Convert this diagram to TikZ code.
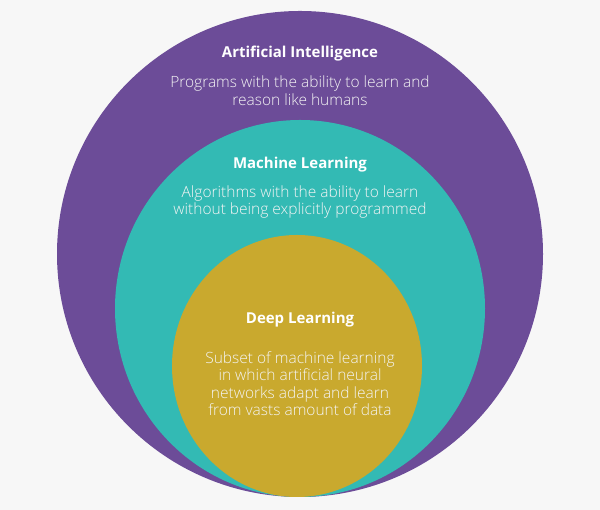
\documentclass[tikz,border=0pt]{standalone}
\usepackage{fontspec}
\setmainfont{Open Sans}
\newfontfamily\lightfont{Open Sans Light}
\definecolor{bg}{HTML}{F7F7F7}
\definecolor{aipurple}{HTML}{6C4C98}
\definecolor{mlteal}{HTML}{33BAB4}
\definecolor{dlgold}{HTML}{C9A92E}
\definecolor{desc}{HTML}{F4F4F4}
\begin{document}
\begin{tikzpicture}[x=1pt,y=1pt,
  title/.style={text=white,font=\fontsize{15}{18}\selectfont\bfseries,inner sep=0pt,anchor=base},
  body/.style={text=desc,font=\lightfont\fontsize{15.5}{17.5}\selectfont,align=center,inner sep=0pt,anchor=center}]
\useasboundingbox (0,0) rectangle (600,510);
\fill[bg] (0,0) rectangle (600,510);
\fill[aipurple] (300,256) circle[radius=243];
\fill[mlteal] (300,201.5) ellipse[x radius=185,y radius=188.5];
\fill[dlgold] (297,144) ellipse[x radius=125,y radius=131];
\node[title] (ait) at (300,510-57.5) {Artificial Intelligence};
\node[body] (aib) at (300,510-90.5) {Programs with the ability to learn and\\reason like humans};
\node[title] (mlt) at (300,510-168.5) {Machine Learning};
\node[body] (mlb) at (300,510-202) {Algorithms with the ability to learn\\without being explicitly programmed};
\node[title] (dlt) at (300,510-323.5) {Deep Learning};
\node[body] (dlb) at (300,510-383.5) {Subset of machine learning\\in which artificial neural\\networks adapt and learn\\from vasts amount of data};
\end{tikzpicture}
\end{document}
